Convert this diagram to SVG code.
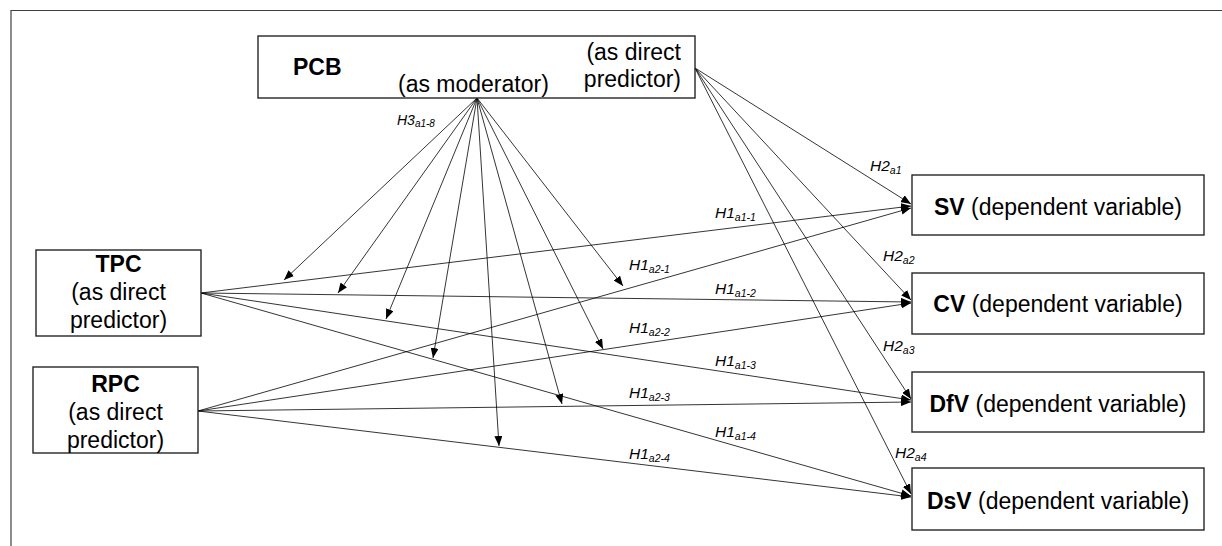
<svg xmlns="http://www.w3.org/2000/svg" width="1222" height="546" viewBox="0 0 1222 546">
  <style>
    .frame { fill: none; stroke: #404040; stroke-width: 1.2; }
    .box { fill: #ffffff; stroke: #262626; stroke-width: 1.4; }
    .node-text { font-family: "Liberation Sans", Arial, sans-serif; font-size: 23px; fill: #000000; }
    .b { font-weight: bold; }
    .edge { stroke: #000000; stroke-width: 0.8; fill: none; marker-end: url(#arr); }
    .lbl { font-family: "Liberation Sans", Arial, sans-serif; font-style: italic; font-size: 15.5px; fill: #000000; }
    .lbl-sm { font-family: "Liberation Sans", Arial, sans-serif; font-style: italic; font-size: 14px; fill: #000000; }
    .sub { font-size: 10.5px; }
    .sub-sm { font-size: 10px; }
  </style>
  <defs>
    <marker id="arr" viewBox="0 0 10 8" refX="10" refY="4" markerWidth="10" markerHeight="8" markerUnits="userSpaceOnUse" orient="auto">
      <path d="M0,0 L10,4 L0,8 z" fill="#000000"/>
    </marker>
  </defs>

  <!-- outer frame -->
  <path class="frame" d="M11,546 L11,10.5 L1222,10.5"/>

  <!-- connectors -->
  <g id="connectors">
    <!-- PCB as moderator -->
    <line class="edge" x1="477" y1="98" x2="284" y2="280"/>
    <line class="edge" x1="477" y1="98" x2="338" y2="293"/>
    <line class="edge" x1="477" y1="98" x2="386" y2="319"/>
    <line class="edge" x1="477" y1="98" x2="433" y2="358"/>
    <line class="edge" x1="477" y1="98" x2="499" y2="446"/>
    <line class="edge" x1="477" y1="98" x2="562" y2="404"/>
    <line class="edge" x1="477" y1="98" x2="603" y2="349"/>
    <line class="edge" x1="477" y1="98" x2="623" y2="286"/>
    <!-- PCB as direct predictor -->
    <line class="edge" x1="695" y1="68" x2="911" y2="204"/>
    <line class="edge" x1="695" y1="68" x2="911" y2="300"/>
    <line class="edge" x1="695" y1="68" x2="911" y2="399"/>
    <line class="edge" x1="695" y1="68" x2="911" y2="494"/>
    <!-- TPC -->
    <line class="edge" x1="201" y1="293" x2="911" y2="206"/>
    <line class="edge" x1="201" y1="293" x2="911" y2="302"/>
    <line class="edge" x1="201" y1="293" x2="911" y2="400"/>
    <line class="edge" x1="201" y1="293" x2="911" y2="496"/>
    <!-- RPC -->
    <line class="edge" x1="198" y1="411" x2="911" y2="208"/>
    <line class="edge" x1="198" y1="411" x2="911" y2="303"/>
    <line class="edge" x1="198" y1="411" x2="911" y2="402"/>
    <line class="edge" x1="198" y1="411" x2="911" y2="497"/>
  </g>

  <!-- connector labels -->
  <g id="labels">
    <text class="lbl-sm" x="397" y="125">H3<tspan class="sub-sm" dy="2">a1-8</tspan></text>
    <text class="lbl" x="870" y="171">H2<tspan class="sub" dy="2.5">a1</tspan></text>
    <text class="lbl" x="883" y="261">H2<tspan class="sub" dy="2.5">a2</tspan></text>
    <text class="lbl" x="883" y="351">H2<tspan class="sub" dy="2.5">a3</tspan></text>
    <text class="lbl" x="895" y="458">H2<tspan class="sub" dy="2.5">a4</tspan></text>
    <text class="lbl" x="715" y="218">H1<tspan class="sub" dy="2.5">a1-1</tspan></text>
    <text class="lbl" x="629" y="270">H1<tspan class="sub" dy="2.5">a2-1</tspan></text>
    <text class="lbl" x="715" y="294">H1<tspan class="sub" dy="2.5">a1-2</tspan></text>
    <text class="lbl" x="629" y="333">H1<tspan class="sub" dy="2.5">a2-2</tspan></text>
    <text class="lbl" x="715" y="366">H1<tspan class="sub" dy="2.5">a1-3</tspan></text>
    <text class="lbl" x="629" y="398">H1<tspan class="sub" dy="2.5">a2-3</tspan></text>
    <text class="lbl" x="715" y="437">H1<tspan class="sub" dy="2.5">a1-4</tspan></text>
    <text class="lbl" x="629" y="459">H1<tspan class="sub" dy="2.5">a2-4</tspan></text>
  </g>

  <!-- nodes -->
  <g id="node-pcb">
    <rect class="box" x="258" y="36" width="437" height="62"/>
    <text class="node-text b" x="293" y="75">PCB</text>
    <text class="node-text" x="398" y="92">(as moderator)</text>
    <text class="node-text" x="681" y="60" text-anchor="end">(as direct</text>
    <text class="node-text" x="681" y="87" text-anchor="end">predictor)</text>
  </g>

  <g id="node-tpc">
    <rect class="box" x="36" y="250" width="165" height="86"/>
    <text class="node-text b" x="118.5" y="272" text-anchor="middle">TPC</text>
    <text class="node-text" x="118.5" y="300" text-anchor="middle">(as direct</text>
    <text class="node-text" x="118.5" y="328" text-anchor="middle">predictor)</text>
  </g>

  <g id="node-rpc">
    <rect class="box" x="33" y="367" width="165" height="86"/>
    <text class="node-text b" x="115.5" y="392" text-anchor="middle">RPC</text>
    <text class="node-text" x="115.5" y="419.5" text-anchor="middle">(as direct</text>
    <text class="node-text" x="115.5" y="447.5" text-anchor="middle">predictor)</text>
  </g>

  <g id="node-sv">
    <rect class="box" x="912" y="175" width="292" height="60"/>
    <text class="node-text" x="1058" y="215" text-anchor="middle"><tspan class="b">SV</tspan> (dependent variable)</text>
  </g>

  <g id="node-cv">
    <rect class="box" x="912" y="273" width="292" height="61"/>
    <text class="node-text" x="1058" y="312" text-anchor="middle"><tspan class="b">CV</tspan> (dependent variable)</text>
  </g>

  <g id="node-dfv">
    <rect class="box" x="912" y="372" width="292" height="60"/>
    <text class="node-text" x="1058" y="411.5" text-anchor="middle"><tspan class="b">DfV</tspan> (dependent variable)</text>
  </g>

  <g id="node-dsv">
    <rect class="box" x="912" y="468" width="292" height="62"/>
    <text class="node-text" x="1058" y="509" text-anchor="middle"><tspan class="b">DsV</tspan> (dependent variable)</text>
  </g>
</svg>
